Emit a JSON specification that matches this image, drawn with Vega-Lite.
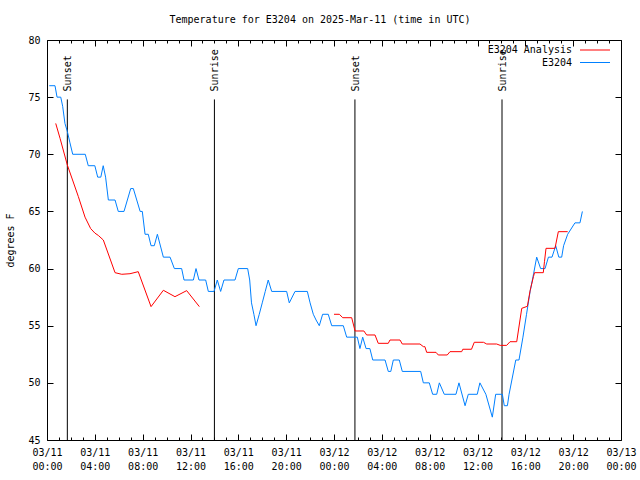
{
  "$schema": "https://vega.github.io/schema/vega-lite/v6.json",
  "width": 574,
  "height": 400,
  "autosize": {"type": "none"},
  "padding": {"left": 47, "top": 40, "right": 19, "bottom": 40},
  "background": "white",
  "title": {"text": "Temperature for E3204 on 2025-Mar-11 (time in UTC)", "font": "DejaVu Sans Mono", "fontSize": 10, "fontWeight": "normal", "color": "black", "anchor": "middle", "offset": 10, "dx": -14},
  "config": {
    "view": {"stroke": "black", "strokeWidth": 1},
    "font": "DejaVu Sans Mono",
    "axis": {"labelFont": "DejaVu Sans Mono", "labelFontSize": 10, "labelColor": "black", "titleFont": "DejaVu Sans Mono", "titleFontSize": 10, "titleFontWeight": "normal", "titleColor": "black", "grid": false, "tickColor": "black"}
  },
  "datasets": {
    "temps": [
      {"series": "E3204", "seg": "b", "hour": 0.19, "temp": 76},
      {"series": "E3204", "seg": "b", "hour": 0.67, "temp": 76},
      {"series": "E3204", "seg": "b", "hour": 0.84, "temp": 75},
      {"series": "E3204", "seg": "b", "hour": 1.15, "temp": 75},
      {"series": "E3204", "seg": "b", "hour": 1.31, "temp": 74.2},
      {"series": "E3204", "seg": "b", "hour": 1.5, "temp": 72.7},
      {"series": "E3204", "seg": "b", "hour": 1.7, "temp": 72},
      {"series": "E3204", "seg": "b", "hour": 1.92, "temp": 71},
      {"series": "E3204", "seg": "b", "hour": 2.15, "temp": 70},
      {"series": "E3204", "seg": "b", "hour": 3.2, "temp": 70},
      {"series": "E3204", "seg": "b", "hour": 3.45, "temp": 69},
      {"series": "E3204", "seg": "b", "hour": 4.0, "temp": 69},
      {"series": "E3204", "seg": "b", "hour": 4.24, "temp": 68},
      {"series": "E3204", "seg": "b", "hour": 4.5, "temp": 68},
      {"series": "E3204", "seg": "b", "hour": 4.7, "temp": 69},
      {"series": "E3204", "seg": "b", "hour": 4.9, "temp": 68},
      {"series": "E3204", "seg": "b", "hour": 5.13, "temp": 66},
      {"series": "E3204", "seg": "b", "hour": 5.69, "temp": 66},
      {"series": "E3204", "seg": "b", "hour": 5.96, "temp": 65},
      {"series": "E3204", "seg": "b", "hour": 6.44, "temp": 65},
      {"series": "E3204", "seg": "b", "hour": 7.0, "temp": 67},
      {"series": "E3204", "seg": "b", "hour": 7.22, "temp": 67},
      {"series": "E3204", "seg": "b", "hour": 7.79, "temp": 65},
      {"series": "E3204", "seg": "b", "hour": 7.97, "temp": 65},
      {"series": "E3204", "seg": "b", "hour": 8.2, "temp": 63},
      {"series": "E3204", "seg": "b", "hour": 8.47, "temp": 63},
      {"series": "E3204", "seg": "b", "hour": 8.7, "temp": 62},
      {"series": "E3204", "seg": "b", "hour": 8.97, "temp": 62},
      {"series": "E3204", "seg": "b", "hour": 9.23, "temp": 63},
      {"series": "E3204", "seg": "b", "hour": 9.73, "temp": 61},
      {"series": "E3204", "seg": "b", "hour": 10.29, "temp": 61},
      {"series": "E3204", "seg": "b", "hour": 10.65, "temp": 60},
      {"series": "E3204", "seg": "b", "hour": 11.26, "temp": 60},
      {"series": "E3204", "seg": "b", "hour": 11.46, "temp": 59},
      {"series": "E3204", "seg": "b", "hour": 12.24, "temp": 59},
      {"series": "E3204", "seg": "b", "hour": 12.46, "temp": 60},
      {"series": "E3204", "seg": "b", "hour": 12.71, "temp": 59},
      {"series": "E3204", "seg": "b", "hour": 13.27, "temp": 59},
      {"series": "E3204", "seg": "b", "hour": 13.49, "temp": 58},
      {"series": "E3204", "seg": "b", "hour": 13.97, "temp": 58},
      {"series": "E3204", "seg": "b", "hour": 14.24, "temp": 59},
      {"series": "E3204", "seg": "b", "hour": 14.52, "temp": 58},
      {"series": "E3204", "seg": "b", "hour": 14.8, "temp": 59},
      {"series": "E3204", "seg": "b", "hour": 15.72, "temp": 59},
      {"series": "E3204", "seg": "b", "hour": 16.0, "temp": 60},
      {"series": "E3204", "seg": "b", "hour": 16.78, "temp": 60},
      {"series": "E3204", "seg": "b", "hour": 16.95, "temp": 59},
      {"series": "E3204", "seg": "b", "hour": 17.1, "temp": 57},
      {"series": "E3204", "seg": "b", "hour": 17.3, "temp": 56},
      {"series": "E3204", "seg": "b", "hour": 17.48, "temp": 55},
      {"series": "E3204", "seg": "b", "hour": 17.75, "temp": 56},
      {"series": "E3204", "seg": "b", "hour": 18.0, "temp": 57},
      {"series": "E3204", "seg": "b", "hour": 18.25, "temp": 58},
      {"series": "E3204", "seg": "b", "hour": 18.5, "temp": 59},
      {"series": "E3204", "seg": "b", "hour": 18.79, "temp": 58},
      {"series": "E3204", "seg": "b", "hour": 20.04, "temp": 58},
      {"series": "E3204", "seg": "b", "hour": 20.26, "temp": 57},
      {"series": "E3204", "seg": "b", "hour": 20.74, "temp": 58},
      {"series": "E3204", "seg": "b", "hour": 21.77, "temp": 58},
      {"series": "E3204", "seg": "b", "hour": 22.0, "temp": 57},
      {"series": "E3204", "seg": "b", "hour": 22.27, "temp": 56},
      {"series": "E3204", "seg": "b", "hour": 22.5, "temp": 55.5},
      {"series": "E3204", "seg": "b", "hour": 22.77, "temp": 55},
      {"series": "E3204", "seg": "b", "hour": 23.05, "temp": 56},
      {"series": "E3204", "seg": "b", "hour": 23.52, "temp": 56},
      {"series": "E3204", "seg": "b", "hour": 23.81, "temp": 55},
      {"series": "E3204", "seg": "b", "hour": 24.78, "temp": 55},
      {"series": "E3204", "seg": "b", "hour": 25.06, "temp": 54},
      {"series": "E3204", "seg": "b", "hour": 25.95, "temp": 54},
      {"series": "E3204", "seg": "b", "hour": 26.17, "temp": 53},
      {"series": "E3204", "seg": "b", "hour": 26.4, "temp": 54},
      {"series": "E3204", "seg": "b", "hour": 26.68, "temp": 53},
      {"series": "E3204", "seg": "b", "hour": 27.0, "temp": 53},
      {"series": "E3204", "seg": "b", "hour": 27.24, "temp": 52},
      {"series": "E3204", "seg": "b", "hour": 28.27, "temp": 52},
      {"series": "E3204", "seg": "b", "hour": 28.54, "temp": 51},
      {"series": "E3204", "seg": "b", "hour": 28.75, "temp": 51},
      {"series": "E3204", "seg": "b", "hour": 28.96, "temp": 52},
      {"series": "E3204", "seg": "b", "hour": 29.46, "temp": 52},
      {"series": "E3204", "seg": "b", "hour": 29.71, "temp": 51},
      {"series": "E3204", "seg": "b", "hour": 31.25, "temp": 51},
      {"series": "E3204", "seg": "b", "hour": 31.47, "temp": 50},
      {"series": "E3204", "seg": "b", "hour": 31.97, "temp": 50},
      {"series": "E3204", "seg": "b", "hour": 32.25, "temp": 49},
      {"series": "E3204", "seg": "b", "hour": 32.59, "temp": 49},
      {"series": "E3204", "seg": "b", "hour": 32.81, "temp": 50},
      {"series": "E3204", "seg": "b", "hour": 33.22, "temp": 49},
      {"series": "E3204", "seg": "b", "hour": 34.2, "temp": 49},
      {"series": "E3204", "seg": "b", "hour": 34.45, "temp": 50},
      {"series": "E3204", "seg": "b", "hour": 34.96, "temp": 48},
      {"series": "E3204", "seg": "b", "hour": 35.23, "temp": 49},
      {"series": "E3204", "seg": "b", "hour": 35.98, "temp": 49},
      {"series": "E3204", "seg": "b", "hour": 36.2, "temp": 50},
      {"series": "E3204", "seg": "b", "hour": 36.7, "temp": 49},
      {"series": "E3204", "seg": "b", "hour": 37.24, "temp": 47},
      {"series": "E3204", "seg": "b", "hour": 37.52, "temp": 49},
      {"series": "E3204", "seg": "b", "hour": 38.08, "temp": 49},
      {"series": "E3204", "seg": "b", "hour": 38.24, "temp": 48},
      {"series": "E3204", "seg": "b", "hour": 38.5, "temp": 48},
      {"series": "E3204", "seg": "b", "hour": 38.64, "temp": 49},
      {"series": "E3204", "seg": "b", "hour": 39.2, "temp": 52},
      {"series": "E3204", "seg": "b", "hour": 39.47, "temp": 52},
      {"series": "E3204", "seg": "b", "hour": 39.8, "temp": 54},
      {"series": "E3204", "seg": "b", "hour": 40.1, "temp": 56},
      {"series": "E3204", "seg": "b", "hour": 40.4, "temp": 58},
      {"series": "E3204", "seg": "b", "hour": 40.7, "temp": 59.6},
      {"series": "E3204", "seg": "b", "hour": 40.95, "temp": 61},
      {"series": "E3204", "seg": "b", "hour": 41.28, "temp": 60},
      {"series": "E3204", "seg": "b", "hour": 41.65, "temp": 60},
      {"series": "E3204", "seg": "b", "hour": 41.93, "temp": 61},
      {"series": "E3204", "seg": "b", "hour": 42.23, "temp": 61},
      {"series": "E3204", "seg": "b", "hour": 42.54, "temp": 62},
      {"series": "E3204", "seg": "b", "hour": 42.8, "temp": 61},
      {"series": "E3204", "seg": "b", "hour": 43.04, "temp": 61},
      {"series": "E3204", "seg": "b", "hour": 43.2, "temp": 62},
      {"series": "E3204", "seg": "b", "hour": 43.54, "temp": 63},
      {"series": "E3204", "seg": "b", "hour": 44.15, "temp": 64},
      {"series": "E3204", "seg": "b", "hour": 44.57, "temp": 64},
      {"series": "E3204", "seg": "b", "hour": 44.77, "temp": 65},
      {"series": "E3204 Analysis", "seg": "r1", "hour": 0.73, "temp": 72.7},
      {"series": "E3204 Analysis", "seg": "r1", "hour": 1.09, "temp": 71.4},
      {"series": "E3204 Analysis", "seg": "r1", "hour": 1.7, "temp": 69.06},
      {"series": "E3204 Analysis", "seg": "r1", "hour": 2.62, "temp": 66.3},
      {"series": "E3204 Analysis", "seg": "r1", "hour": 3.18, "temp": 64.5},
      {"series": "E3204 Analysis", "seg": "r1", "hour": 3.65, "temp": 63.5},
      {"series": "E3204 Analysis", "seg": "r1", "hour": 4.01, "temp": 63.1},
      {"series": "E3204 Analysis", "seg": "r1", "hour": 4.29, "temp": 62.9},
      {"series": "E3204 Analysis", "seg": "r1", "hour": 4.71, "temp": 62.5},
      {"series": "E3204 Analysis", "seg": "r1", "hour": 5.69, "temp": 59.64},
      {"series": "E3204 Analysis", "seg": "r1", "hour": 6.25, "temp": 59.5},
      {"series": "E3204 Analysis", "seg": "r1", "hour": 6.94, "temp": 59.55},
      {"series": "E3204 Analysis", "seg": "r1", "hour": 7.63, "temp": 59.73},
      {"series": "E3204 Analysis", "seg": "r1", "hour": 8.7, "temp": 56.67},
      {"series": "E3204 Analysis", "seg": "r1", "hour": 9.73, "temp": 58.1},
      {"series": "E3204 Analysis", "seg": "r1", "hour": 10.7, "temp": 57.54},
      {"series": "E3204 Analysis", "seg": "r1", "hour": 11.68, "temp": 58.07},
      {"series": "E3204 Analysis", "seg": "r1", "hour": 12.74, "temp": 56.67},
      {"series": "E3204 Analysis", "seg": "r2", "hour": 24.0, "temp": 56.0},
      {"series": "E3204 Analysis", "seg": "r2", "hour": 24.45, "temp": 56.0},
      {"series": "E3204 Analysis", "seg": "r2", "hour": 24.73, "temp": 55.7},
      {"series": "E3204 Analysis", "seg": "r2", "hour": 25.48, "temp": 55.7},
      {"series": "E3204 Analysis", "seg": "r2", "hour": 25.76, "temp": 54.54},
      {"series": "E3204 Analysis", "seg": "r2", "hour": 26.5, "temp": 54.54},
      {"series": "E3204 Analysis", "seg": "r2", "hour": 26.73, "temp": 54.19},
      {"series": "E3204 Analysis", "seg": "r2", "hour": 27.43, "temp": 54.19},
      {"series": "E3204 Analysis", "seg": "r2", "hour": 27.7, "temp": 53.46},
      {"series": "E3204 Analysis", "seg": "r2", "hour": 28.54, "temp": 53.46},
      {"series": "E3204 Analysis", "seg": "r2", "hour": 28.68, "temp": 53.75},
      {"series": "E3204 Analysis", "seg": "r2", "hour": 29.52, "temp": 53.75},
      {"series": "E3204 Analysis", "seg": "r2", "hour": 29.71, "temp": 53.4},
      {"series": "E3204 Analysis", "seg": "r2", "hour": 31.19, "temp": 53.4},
      {"series": "E3204 Analysis", "seg": "r2", "hour": 31.47, "temp": 53.17},
      {"series": "E3204 Analysis", "seg": "r2", "hour": 31.6, "temp": 53.17},
      {"series": "E3204 Analysis", "seg": "r2", "hour": 31.75, "temp": 52.67},
      {"series": "E3204 Analysis", "seg": "r2", "hour": 32.53, "temp": 52.67},
      {"series": "E3204 Analysis", "seg": "r2", "hour": 32.72, "temp": 52.44},
      {"series": "E3204 Analysis", "seg": "r2", "hour": 33.47, "temp": 52.44},
      {"series": "E3204 Analysis", "seg": "r2", "hour": 33.7, "temp": 52.73},
      {"series": "E3204 Analysis", "seg": "r2", "hour": 34.68, "temp": 52.73},
      {"series": "E3204 Analysis", "seg": "r2", "hour": 34.77, "temp": 52.94},
      {"series": "E3204 Analysis", "seg": "r2", "hour": 35.5, "temp": 52.94},
      {"series": "E3204 Analysis", "seg": "r2", "hour": 35.73, "temp": 53.55},
      {"series": "E3204 Analysis", "seg": "r2", "hour": 36.5, "temp": 53.55},
      {"series": "E3204 Analysis", "seg": "r2", "hour": 36.77, "temp": 53.4},
      {"series": "E3204 Analysis", "seg": "r2", "hour": 37.6, "temp": 53.4},
      {"series": "E3204 Analysis", "seg": "r2", "hour": 37.9, "temp": 53.28},
      {"series": "E3204 Analysis", "seg": "r2", "hour": 38.44, "temp": 53.28},
      {"series": "E3204 Analysis", "seg": "r2", "hour": 38.72, "temp": 53.6},
      {"series": "E3204 Analysis", "seg": "r2", "hour": 39.28, "temp": 53.6},
      {"series": "E3204 Analysis", "seg": "r2", "hour": 39.7, "temp": 56.52},
      {"series": "E3204 Analysis", "seg": "r2", "hour": 40.17, "temp": 56.7},
      {"series": "E3204 Analysis", "seg": "r2", "hour": 40.4, "temp": 58.07},
      {"series": "E3204 Analysis", "seg": "r2", "hour": 40.68, "temp": 59.3},
      {"series": "E3204 Analysis", "seg": "r2", "hour": 40.77, "temp": 59.64},
      {"series": "E3204 Analysis", "seg": "r2", "hour": 41.5, "temp": 59.64},
      {"series": "E3204 Analysis", "seg": "r2", "hour": 41.6, "temp": 60.6},
      {"series": "E3204 Analysis", "seg": "r2", "hour": 41.73, "temp": 61.77},
      {"series": "E3204 Analysis", "seg": "r2", "hour": 42.48, "temp": 61.77},
      {"series": "E3204 Analysis", "seg": "r2", "hour": 42.76, "temp": 63.23},
      {"series": "E3204 Analysis", "seg": "r2", "hour": 43.54, "temp": 63.23}
    ],
    "events": [
      {"event": "Sunset", "hour": 1.7},
      {"event": "Sunrise", "hour": 14.0},
      {"event": "Sunset", "hour": 25.75},
      {"event": "Sunrise", "hour": 38.05}
    ]
  },
  "resolve": {"axis": {"x": "independent", "y": "independent"}},
  "layer": [
    {
      "data": {"name": "events"},
      "mark": {"type": "rule", "color": "black", "strokeWidth": 1},
      "encoding": {
        "x": {"field": "hour", "type": "quantitative", "scale": {"domain": [0, 48], "nice": false, "zero": false},
          "axis": {"orient": "bottom", "values": [0,1,2,3,4,5,6,7,8,9,10,11,12,13,14,15,16,17,18,19,20,21,22,23,24,25,26,27,28,29,30,31,32,33,34,35,36,37,38,39,40,41,42,43,44,45,46,47,48], "labels": false, "domain": false, "title": null,
            "tickSize": {"condition": {"test": "datum.value % 4 === 0", "value": -6}, "value": -3}}},
        "y": {"datum": 74.8, "type": "quantitative", "scale": {"domain": [45, 80], "nice": false, "zero": false},
          "axis": {"orient": "left", "values": [45,50,55,60,65,70,75,80], "labels": false, "domain": false, "title": null, "tickSize": -6}},
        "y2": {"datum": 45}
      }
    },
    {
      "data": {"name": "events"},
      "mark": {"type": "text", "angle": 270, "align": "left", "baseline": "middle", "font": "DejaVu Sans Mono", "fontSize": 10, "color": "black", "dy": 1},
      "encoding": {
        "x": {"field": "hour", "type": "quantitative",
          "axis": {"orient": "top", "values": [0,1,2,3,4,5,6,7,8,9,10,11,12,13,14,15,16,17,18,19,20,21,22,23,24,25,26,27,28,29,30,31,32,33,34,35,36,37,38,39,40,41,42,43,44,45,46,47,48], "labels": false, "domain": false, "title": null,
            "tickSize": {"condition": {"test": "datum.value % 4 === 0", "value": -6}, "value": -3}}},
        "y": {"datum": 75.5, "type": "quantitative",
          "axis": {"orient": "right", "values": [45,50,55,60,65,70,75,80], "labels": false, "domain": false, "title": null, "tickSize": -6}},
        "text": {"field": "event"}
      }
    },
    {
      "data": {"name": "temps"},
      "mark": {"type": "line", "strokeWidth": 1},
      "encoding": {
        "x": {"field": "hour", "type": "quantitative",
          "axis": {"orient": "bottom", "values": [0,4,8,12,16,20,24,28,32,36,40,44,48], "ticks": false, "domain": false, "title": null, "labelPadding": 7, "labelBaseline": "top", "labelLineHeight": 14, "labelFlush": false, "labelOverlap": false,
            "labelExpr": "['03/' + (11 + floor(datum.value / 24)), (datum.value % 24 < 10 ? '0' : '') + (datum.value % 24) + ':00']"}},
        "y": {"field": "temp", "type": "quantitative",
          "axis": {"orient": "left", "values": [45,50,55,60,65,70,75,80], "ticks": false, "domain": false, "labelPadding": 7, "title": "degrees F", "titlePadding": 12}},
        "color": {"field": "series", "type": "nominal",
          "scale": {"domain": ["E3204 Analysis", "E3204"], "range": ["#ff0000", "#0080ff"]},
          "legend": {"orient": "none", "legendX": 543, "legendY": 5, "title": null, "symbolType": "M-5,0H5", "symbolSize": 36, "symbolStrokeWidth": 1, "labelAlign": "right", "labelOffset": -28, "labelFont": "DejaVu Sans Mono", "labelFontSize": 10, "labelColor": "black", "rowPadding": 2.5,
            "encode": {"symbols": {"update": {"stroke": {"scale": "color", "field": "value"}, "fill": {"value": "transparent"}}}}}},
        "detail": {"field": "seg"}
      }
    }
  ]
}
